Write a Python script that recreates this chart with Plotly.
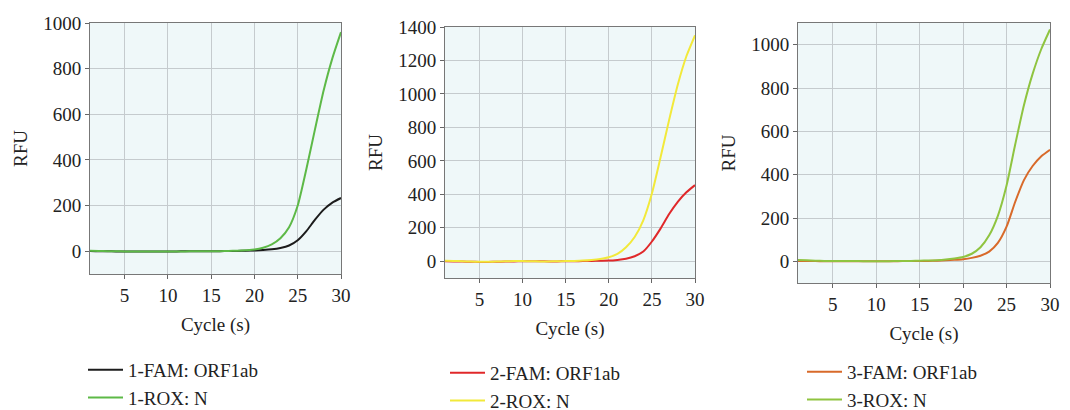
import plotly.graph_objects as go

cycles = list(range(1, 31))

p1_fam = [1, 0, 0, -1, -1, -1, -1, -1, -1, -1, -1, 0, 0, 0, 0, 0, 1, 1, 2,
          3, 5, 8, 14, 25, 48, 88, 138, 182, 213, 233]
p1_rox = [2, 1, 0, 0, -1, -1, -1, -1, -1, -1, -1, -1, 0, 0, 0, 0, 1, 2, 4,
          7, 15, 30, 57, 105, 200, 360, 535, 705, 845, 960]

p2_fam = [0, -1, -2, -3, -4, -4, -3, -2, -1, 0, 0, 0, -1, -1, 0, 0, 1, 2, 3,
          4, 8, 15, 30, 58, 118, 195, 282, 355, 412, 455]
p2_rox = [3, 2, 0, -2, -3, -3, -2, 0, 1, 1, 0, -1, -1, 0, 1, 2, 4, 8, 14,
          24, 44, 84, 145, 245, 405, 620, 845, 1055, 1225, 1350]

p3_fam = [2, 1, 1, 0, 0, 0, 0, 0, 0, 0, 0, 0, 1, 1, 2, 2, 3, 5, 7,
          10, 16, 26, 45, 85, 160, 275, 375, 440, 485, 515]
p3_rox = [6, 5, 3, 2, 2, 2, 1, 1, 0, 0, 0, 1, 1, 2, 3, 4, 5, 8, 13,
          20, 35, 65, 120, 210, 350, 540, 720, 865, 980, 1070]

names = [("1-FAM: ORF1ab", "1-ROX: N"),
         ("2-FAM: ORF1ab", "2-ROX: N"),
         ("3-FAM: ORF1ab", "3-ROX: N")]
colors = [("#1c1c1c", "#5db947"), ("#e0282a", "#f2e93a"), ("#d86a2a", "#8fc440")]
series = [(p1_fam, p1_rox), (p2_fam, p2_rox), (p3_fam, p3_rox)]
y_ranges = [[-100, 1000], [-100, 1400], [-100, 1100]]

OFF = 8  # page body margin offset
W, H = 1070 - OFF, 430 - OFF
# plot boxes in page pixels: (left, right, top, bottom)
boxes = [(90, 341, 23, 274), (445, 695, 27, 278), (798, 1050, 23, 283)]
legend_pos = [(83, 351), (445, 354), (802, 353)]

FONT = "Liberation Serif"
fig = go.Figure()

for i in range(3):
    xa = "x" if i == 0 else f"x{i+1}"
    ya = "y" if i == 0 else f"y{i+1}"
    lg = "legend" if i == 0 else f"legend{i+1}"
    for j in range(2):
        fig.add_trace(go.Scatter(
            x=cycles, y=series[i][j], mode="lines", name=names[i][j],
            line=dict(color=colors[i][j], width=2, shape="spline", smoothing=0.6),
            xaxis=xa, yaxis=ya, legend=lg,
        ))

layout = dict(
    width=W, height=H, margin=dict(l=0, r=0, t=0, b=0, autoexpand=False),
    paper_bgcolor="white", plot_bgcolor="#eff8f9",
    font=dict(family=FONT, size=19, color="#222"),
    showlegend=True,
)


def px(x):
    return (x - OFF) / W


def py(y):
    return 1 - (y - OFF) / H


for i, (l, r, t, b) in enumerate(boxes):
    kx = "xaxis" if i == 0 else f"xaxis{i+1}"
    ky = "yaxis" if i == 0 else f"yaxis{i+1}"
    xname = "x" if i == 0 else f"x{i+1}"
    yname = "y" if i == 0 else f"y{i+1}"
    layout[kx] = dict(
        domain=[px(l), min(px(r), 1)], range=[1, 30], anchor=yname,
        tickvals=[5, 10, 15, 20, 25, 30], ticks="outside", ticklen=4,
        tickcolor="#666", showline=True, linecolor="#777", mirror=True,
        showgrid=True, gridcolor="#c5cbce", gridwidth=1, zeroline=False,
        title=dict(text="Cycle (s)", standoff=12, font=dict(size=19)),
        tickfont=dict(size=19), automargin=False, ticklabeloverflow="allow",
    )
    layout[ky] = dict(
        domain=[py(b), py(t)], range=y_ranges[i], anchor=xname,
        dtick=200, ticks="outside", ticklen=4, tickcolor="#666",
        showline=True, linecolor="#777", mirror=True,
        showgrid=True, gridcolor="#c5cbce", gridwidth=1, zeroline=False,
        title=dict(text="RFU", standoff=10, font=dict(size=19)),
        tickfont=dict(size=19), automargin=False,
    )
    lk = "legend" if i == 0 else f"legend{i+1}"
    lx, ly = legend_pos[i]
    layout[lk] = dict(
        x=px(lx), y=py(ly), xanchor="left", yanchor="top",
        bgcolor="rgba(0,0,0,0)", font=dict(family=FONT, size=19, color="#222"),
        itemwidth=35, tracegroupgap=0,
    )

fig.update_layout(**layout)
fig.write_html("out.html")
